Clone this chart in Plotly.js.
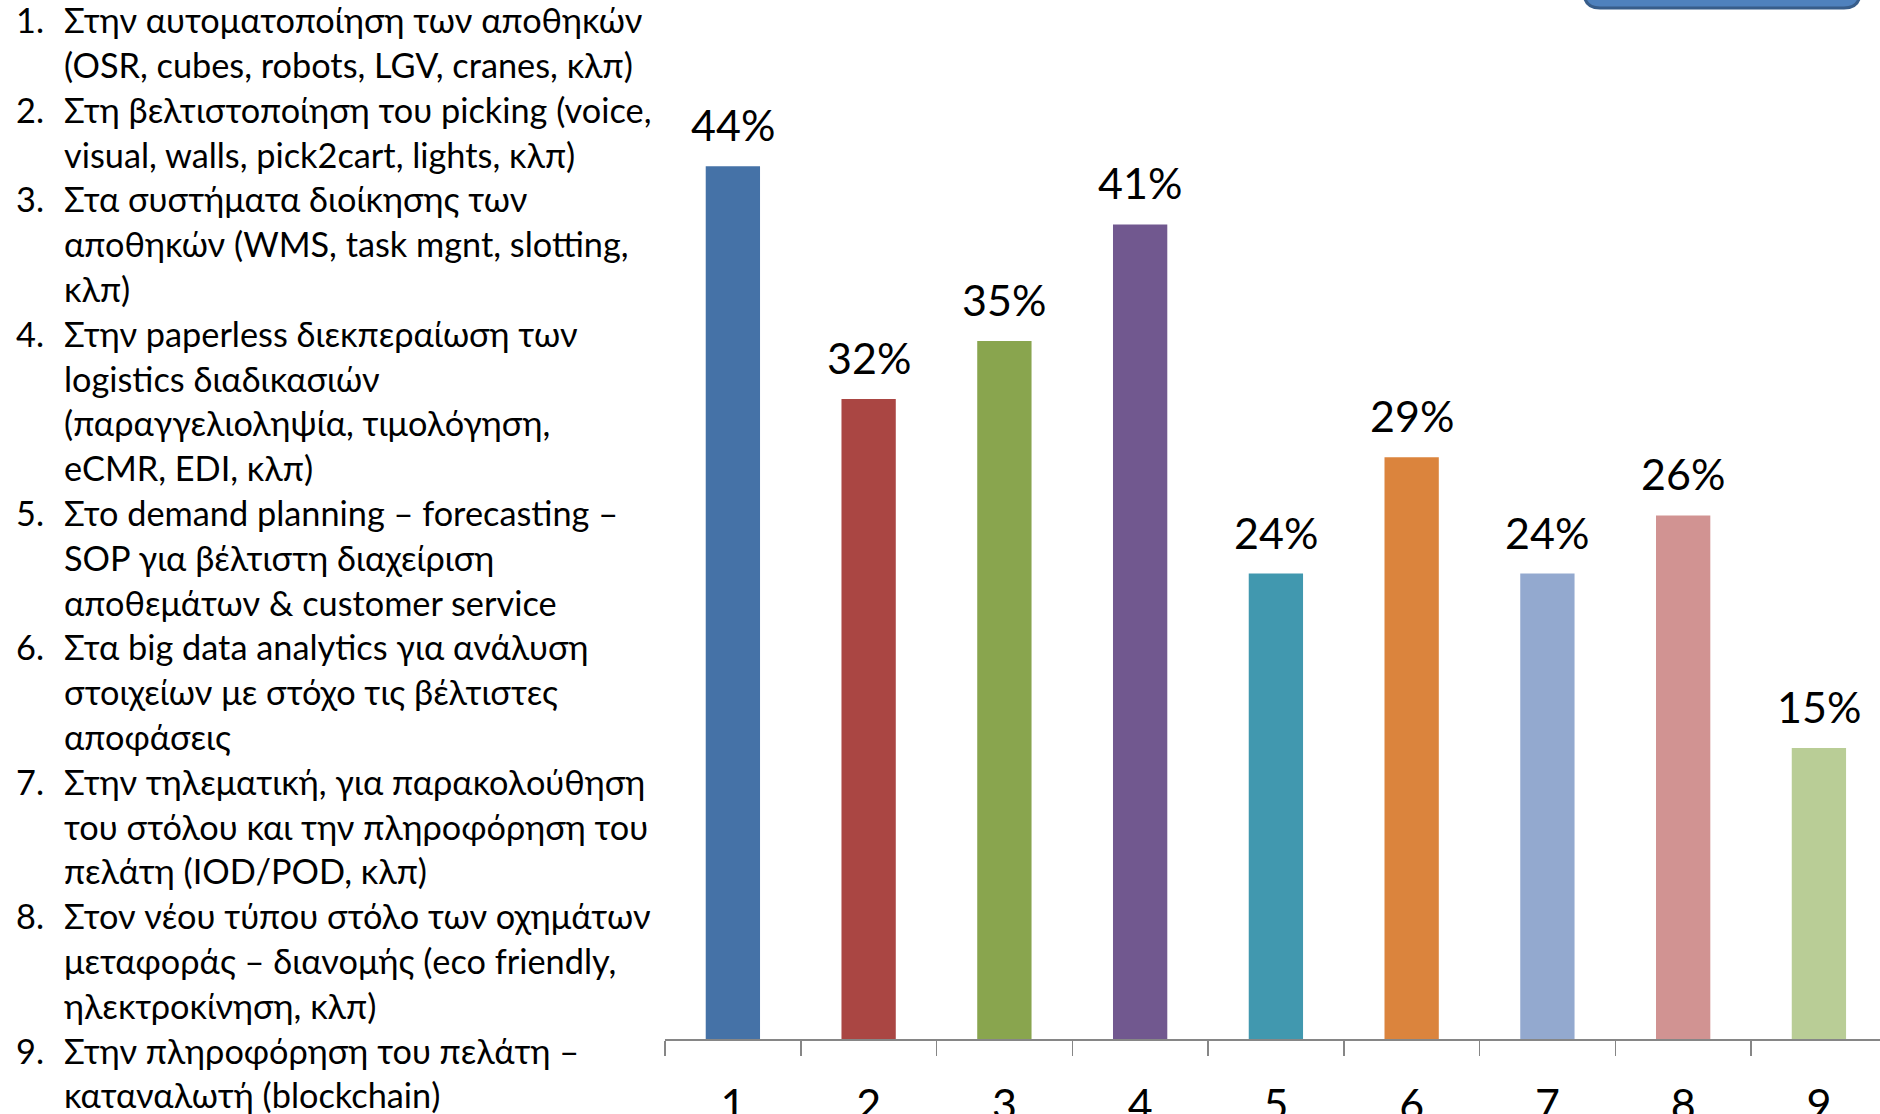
<!DOCTYPE html>
<html>
<head>
<meta charset="utf-8">
<script src="https://cdn.plot.ly/plotly-3.0.1.min.js"></script>
<style>
html,body{margin:0;padding:0;background:#fff;overflow:hidden;}
#chart{width:1880px;height:1114px;}
</style>
</head>
<body>
<div id="chart"></div>
<script>
// ---- data ----
var categories = ['1','2','3','4','5','6','7','8','9'];
var shares = [0.4412, 0.3235, 0.3529, 0.4118, 0.2353, 0.2941, 0.2353, 0.2647, 0.1471];
var barColors = ['#4572A7','#AA4643','#89A54E','#71588F','#4198AF','#DB843D','#93A9CF','#D19392','#B9CD96'];
var itemNumbers = ['1.','2.','3.','4.','5.','6.','7.','8.','9.'];
var itemLines = [
  ['Στην αυτοματοποίηση των αποθηκών', '(OSR, cubes, robots, LGV, cranes, κλπ)'],
  ['Στη βελτιστοποίηση του picking (voice,', 'visual, walls, pick2cart, lights, κλπ)'],
  ['Στα συστήματα διοίκησης των', 'αποθηκών (WMS, task mgnt, slotting,', 'κλπ)'],
  ['Στην paperless διεκπεραίωση των', 'logistics διαδικασιών', '(παραγγελιοληψία, τιμολόγηση,', 'eCMR, EDI, κλπ)'],
  ['Στο demand planning – forecasting –', 'SOP για βέλτιστη διαχείριση', 'αποθεμάτων & customer service'],
  ['Στα big data analytics για ανάλυση', 'στοιχείων με στόχο τις βέλτιστες', 'αποφάσεις'],
  ['Στην τηλεματική, για παρακολούθηση', 'του στόλου και την πληροφόρηση του', 'πελάτη (IOD/POD, κλπ)'],
  ['Στον νέου τύπου στόλο των οχημάτων', 'μεταφοράς – διανομής (eco friendly,', 'ηλεκτροκίνηση, κλπ)'],
  ['Στην πληροφόρηση του πελάτη –', 'καταναλωτή (blockchain)']
];

// ---- layout geometry ----
var FW = 1880, FH = 1114;
var M = {l: 665, r: 0, t: 50, b: 75};
var PW = FW - M.l - M.r, PH = FH - M.t - M.b;
function xp(px){ return (px - M.l) / PW; }
function yp(py){ return (FH - M.b - py) / PH; }

var FONT = 'Lato, "Open Sans", "Noto Sans", sans-serif';
var annotations = [];

// value labels (category index used as x position)
for (var i = 0; i < categories.length; i++) {
  annotations.push({
    x: i, y: shares[i], xref: 'x', yref: 'y',
    text: Math.round(shares[i] * 100) + '%',
    showarrow: false, xanchor: 'center', yanchor: 'bottom', yshift: 14,
    font: {family: FONT, size: 43, color: '#000'}
  });
}

// left numbered list
var textFs = 34.3, lineGap = 44.8, firstBase = 33;
var lineIdx = 0;
for (var k = 0; k < itemLines.length; k++) {
  for (var j = 0; j < itemLines[k].length; j++) {
    var base = firstBase + lineGap * lineIdx;
    var ymid = yp(base - 0.387 * textFs);
    if (j === 0) {
      annotations.push({
        x: xp(13.5), y: ymid, xref: 'paper', yref: 'paper',
        text: itemNumbers[k], showarrow: false, xanchor: 'left', yanchor: 'middle',
        font: {family: FONT, size: textFs, color: '#000'}
      });
    }
    annotations.push({
      x: xp(61.5), y: ymid, xref: 'paper', yref: 'paper',
      text: itemLines[k][j], showarrow: false, xanchor: 'left', yanchor: 'middle',
      font: {family: FONT, size: textFs, color: '#000'}
    });
    lineIdx++;
  }
}

// partial rounded button at top right
var bx0 = 1584, bx1 = 1860, by = 8, rad = 16;
var btnPath = 'M ' + xp(bx0) + ',' + yp(-30) +
  ' L ' + xp(bx0) + ',' + yp(by - rad) +
  ' Q ' + xp(bx0) + ',' + yp(by) + ' ' + xp(bx0 + rad) + ',' + yp(by) +
  ' L ' + xp(bx1 - rad) + ',' + yp(by) +
  ' Q ' + xp(bx1) + ',' + yp(by) + ' ' + xp(bx1) + ',' + yp(by - rad) +
  ' L ' + xp(bx1) + ',' + yp(-30) + ' Z';

var trace = {
  type: 'bar', x: categories, y: shares, width: 0.4,
  marker: {color: barColors, line: {width: 0}},
  hoverinfo: 'x+y', showlegend: false
};

var layout = {
  width: FW, height: FH,
  margin: M,
  paper_bgcolor: '#fff', plot_bgcolor: '#fff',
  showlegend: false,
  bargap: 0.6,
  xaxis: {
    type: 'category', range: [-0.5, 8.45],
    tickson: 'boundaries', ticks: 'outside', ticklen: 15, tickwidth: 1.5, tickcolor: '#868686',
    showline: true, linecolor: '#868686', linewidth: 1.5,
    showgrid: false, zeroline: false,
    tickfont: {family: FONT, size: 43, color: '#000'},
    ticklabelstandoff: 28
  },
  yaxis: {
    range: [0, 0.5], visible: false, showgrid: false, zeroline: false, fixedrange: true
  },
  annotations: annotations,
  shapes: [{
    type: 'path', xref: 'paper', yref: 'paper', path: btnPath,
    fillcolor: '#4F81BD', line: {color: '#385D8A', width: 3}, layer: 'above'
  }]
};

Plotly.newPlot('chart', [trace], layout, {displayModeBar: false, staticPlot: true});
</script>
</body>
</html>
